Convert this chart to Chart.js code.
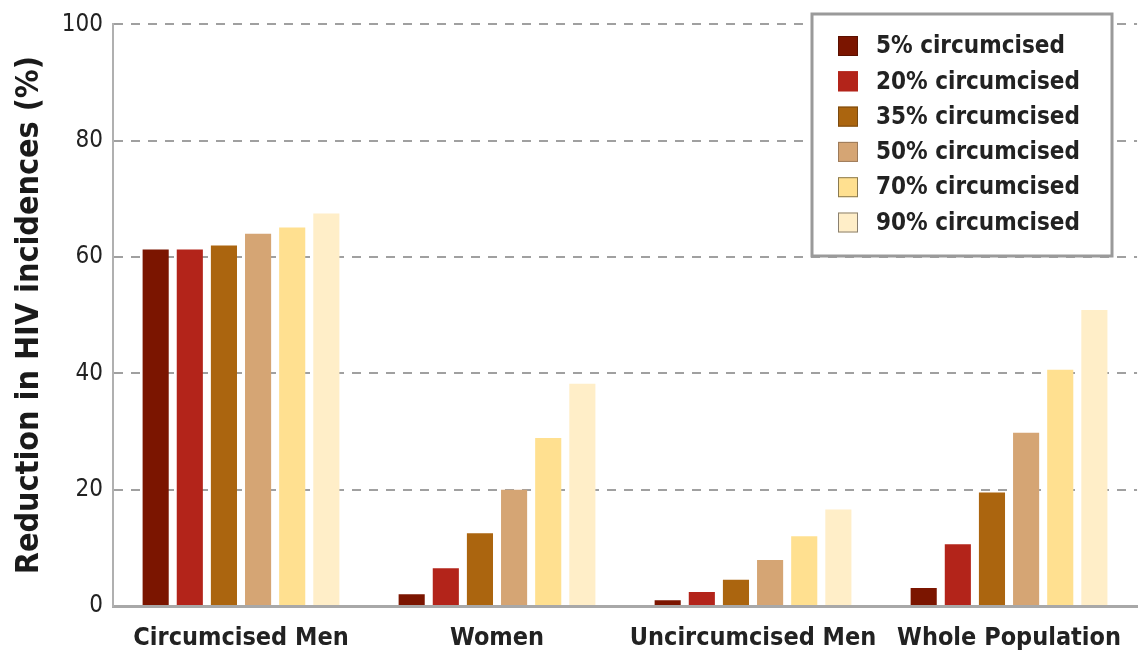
<!DOCTYPE html>
<html>
<head>
<meta charset="utf-8">
<script src="https://cdn.jsdelivr.net/npm/chart.js@4/dist/chart.umd.min.js"></script>
<style>
  html, body { margin: 0; padding: 0; background: #fff; }
  #wrap { width: 1138px; height: 656px; }
</style>
</head>
<body>
<div id="wrap"><canvas id="barchart"></canvas></div>
<script>
var groups = ['Circumcised Men', 'Women', 'Uncircumcised Men', 'Whole Population'];
var seriesNames = ['5% circumcised', '20% circumcised', '35% circumcised', '50% circumcised', '70% circumcised', '90% circumcised'];
var pct5  = [61.3, 2.0, 1.0, 3.1];
var pct20 = [61.3, 6.5, 2.4, 10.6];
var pct35 = [62.0, 12.5, 4.5, 19.5];
var pct50 = [64.0, 20.0, 7.9, 29.8];
var pct70 = [65.1, 28.9, 12.0, 40.6];
var pct90 = [67.5, 38.2, 16.6, 50.9];
var yTicks = [0, 20, 40, 60, 80, 100];

var fills = ['#7b1500', '#b3241a', '#ab650f', '#d5a574', '#ffe090', '#ffeec8'];
var edges = ['#5a1000', '#b3241a', '#7a4a10', '#9c7a5a', '#8a7a50', '#8a8070'];
var FONT = "'Liberation Sans Narrow', 'DejaVu Sans Condensed', 'Roboto Condensed', sans-serif";

var values = [pct5, pct20, pct35, pct50, pct70, pct90];
var datasets = values.map(function (v, i) {
    return {
        label: seriesNames[i],
        data: v,
        backgroundColor: fills[i],
        borderWidth: 0,
        categoryPercentage: 0.8,
        barPercentage: 0.765
    };
});

// legend box drawn inside the plot, top right
var boxLegend = {
    id: 'boxLegend',
    afterDraw: function (chart) {
        var c = chart.ctx;
        var x0 = 812, y0 = 14, w = 300, h = 242;
        c.save();
        c.fillStyle = '#fff';
        c.fillRect(x0, y0, w, h);
        c.strokeStyle = '#9a9a9a';
        c.lineWidth = 3;
        c.strokeRect(x0, y0, w, h);
        c.font = 'bold 24px ' + FONT;
        c.textBaseline = 'middle';
        chart.data.datasets.forEach(function (ds, i) {
            var cy = 46 + i * 35.3;
            c.fillStyle = ds.backgroundColor;
            c.fillRect(838, cy - 10, 20, 20);
            c.strokeStyle = edges[i];
            c.lineWidth = 1;
            c.strokeRect(838.5, cy - 9.5, 19, 19);
            c.fillStyle = '#222';
            c.fillText(ds.label, 876, cy + 1);
        });
        c.restore();
    }
};

var ctx = document.getElementById('barchart').getContext('2d');
var myChart = new Chart(ctx, {
    type: 'bar',
    data: {
        labels: groups,
        datasets: datasets
    },
    options: {
        responsive: true,
        maintainAspectRatio: false,
        animation: false,
        layout: { padding: { top: 8, right: 0, bottom: 0, left: 0 } },
        plugins: {
            legend: { display: false },
            tooltip: { enabled: false }
        },
        scales: {
            x: {
                grid: { display: false, drawTicks: false },
                border: { display: true, color: '#a8a8a8', width: 3 },
                ticks: {
                    color: '#222',
                    padding: 17,
                    maxRotation: 0,
                    font: { family: FONT, size: 25, weight: 'bold' }
                },
                afterFit: function (s) { s.height = 50; }
            },
            y: {
                min: 0,
                max: 100,
                afterBuildTicks: function (s) {
                    s.ticks = yTicks.map(function (v) { return { value: v }; });
                },
                grid: {
                    color: function (c) { return c.tick.value === 0 ? 'rgba(0,0,0,0)' : '#a0a0a0'; },
                    lineWidth: 2,
                    drawTicks: false
                },
                border: { display: true, color: '#b0b0b0', width: 2, dash: [9, 8] },
                ticks: {
                    color: '#222',
                    padding: 10,
                    font: { family: FONT, size: 24 }
                },
                title: {
                    display: true,
                    text: 'Reduction in HIV incidences (%)',
                    color: '#1a1a1a',
                    font: { family: FONT, size: 32, weight: 'bold' },
                    padding: { top: 10, bottom: 0 }
                },
                afterFit: function (s) { s.width = 113; }
            }
        }
    },
    plugins: [boxLegend]
});
</script>
</body>
</html>
